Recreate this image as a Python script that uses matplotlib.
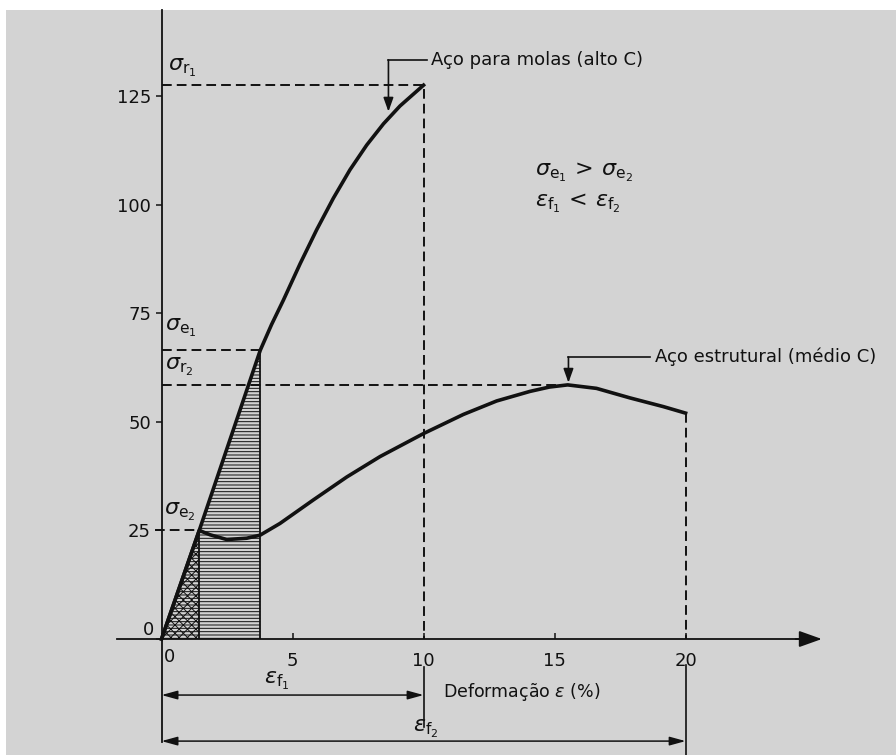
"""Stress-strain sketch: spring steel (high C) vs structural steel (medium C)."""

import matplotlib.pyplot as plt

plt.rcParams["font.family"] = ["DejaVu Sans"]
plt.rcParams["mathtext.fontset"] = "dejavusans"
plt.rcParams["hatch.linewidth"] = 0.7

# values (strain in %, stress in the drawing's units)
SPRING_STRAIN = [0, 1.44, 3.77, 4.2, 4.65, 5.29, 5.92, 6.56, 7.19, 7.83, 8.47, 9.10, 10.0]
SPRING_STRESS = [0, 25, 66.5, 72.4, 78.0, 86.4, 94.2, 101.5, 108.0, 113.7, 118.6, 122.7, 127.5]

STRUCT_STRAIN = [0, 1.44, 1.85, 2.49, 3.25, 3.76, 4.52, 5.79, 7.07, 8.34, 10.0,
                 11.52, 12.79, 14.06, 14.8, 15.5, 16.6, 17.88, 19.15, 20.0]
STRUCT_STRESS = [0, 25, 24.0, 22.9, 23.2, 23.9, 26.6, 32.0, 37.3, 42.0, 47.3,
                 51.7, 54.8, 57.0, 58.0, 58.5, 57.7, 55.5, 53.5, 52.0]

YIELD_1 = (3.77, 66.5)     # sigma_e1
YIELD_2 = (1.44, 25.0)     # sigma_e2
RUPTURE_1 = (10.0, 127.5)  # sigma_r1 / eps_f1
PEAK_2 = (15.5, 58.5)      # sigma_r2
FRACTURE_2 = (20.0, 52.0)  # eps_f2

X_TICKS = [0, 5, 10, 15, 20]
Y_TICKS = [0, 25, 50, 75, 100, 125]

BG = "#d3d3d3"
INK = "#111111"
DASH = dict(color=INK, lw=1.4, linestyle=(0, (5, 2.6)))


def setup_axes(fig):
    ax = fig.add_axes([6 / 896, 0, 890 / 896, 745 / 755])
    ax.set_facecolor(BG)
    ax.set_xlim(-5.935, 28.03)
    ax.set_ylim(-26.7, 144.8)
    ax.spines[["top", "right"]].set_visible(False)
    ax.spines["left"].set_position(("data", 0))
    ax.spines["bottom"].set_position(("data", 0))
    ax.spines["left"].set_bounds(-23.7, 144.8)
    ax.spines["bottom"].set_bounds(-1.7, 24.5)
    for s in ("left", "bottom"):
        ax.spines[s].set_linewidth(1.3)
        ax.spines[s].set_color(INK)
    ax.set_xticks(X_TICKS, labels=[""] + [str(v) for v in X_TICKS[1:]])
    ax.set_yticks(Y_TICKS, labels=[""] + [str(v) for v in Y_TICKS[1:]])
    ax.tick_params(axis="y", direction="out", length=4.5, width=1.1, pad=3,
                   labelsize=13, colors=INK)
    ax.tick_params(axis="x", direction="in", length=4, width=1.1, pad=9,
                   labelsize=13, colors=INK)
    ax.text(-0.3, 2.1, "0", ha="right", va="center", fontsize=13, color=INK)
    ax.text(0.32, -4.1, "0", ha="center", va="center", fontsize=13, color=INK)
    # arrow head of the strain axis
    ax.annotate("", xy=(25.2, 0), xytext=(24.2, 0),
                arrowprops=dict(arrowstyle="-|>,head_length=0.7,head_width=0.25",
                                mutation_scale=20, color=INK, lw=1.3,
                                shrinkA=0, shrinkB=0))
    return ax


def draw_areas(ax):
    n1 = SPRING_STRAIN.index(YIELD_1[0]) + 1
    ax.fill_between(SPRING_STRAIN[:n1], SPRING_STRESS[:n1], facecolor="none",
                    edgecolor=INK, hatch="-----", lw=0)
    n2 = STRUCT_STRAIN.index(YIELD_2[0]) + 1
    ax.fill_between(STRUCT_STRAIN[:n2], STRUCT_STRESS[:n2], facecolor="none",
                    edgecolor=INK, hatch="xxxx", lw=0)
    ax.vlines([YIELD_2[0], YIELD_1[0]], 0, [YIELD_2[1], YIELD_1[1]], color=INK, lw=1.3)


def draw_curves(ax):
    ax.plot(SPRING_STRAIN, SPRING_STRESS, color=INK, lw=2.6, solid_joinstyle="round")
    ax.plot(STRUCT_STRAIN, STRUCT_STRESS, color=INK, lw=2.6, solid_joinstyle="round")


def draw_guides(ax):
    ax.plot([0, RUPTURE_1[0], RUPTURE_1[0]], [RUPTURE_1[1], RUPTURE_1[1], 0], **DASH)
    ax.plot([0, YIELD_1[0]], [YIELD_1[1], YIELD_1[1]], **DASH)
    ax.plot([-0.25, YIELD_2[0]], [YIELD_2[1], YIELD_2[1]], **DASH)
    ax.plot([0, PEAK_2[0]], [PEAK_2[1], PEAK_2[1]], **DASH)
    ax.plot([FRACTURE_2[0], FRACTURE_2[0]], [FRACTURE_2[1], 0], **DASH)
    # extension lines below the strain axis
    ax.plot([RUPTURE_1[0], RUPTURE_1[0]], [-6.5, -20.3], color=INK, lw=1.2)
    ax.plot([FRACTURE_2[0], FRACTURE_2[0]], [-6.0, -26.7], color=INK, lw=1.2)

    dim = dict(arrowstyle="<|-|>,head_length=0.8,head_width=0.22",
               mutation_scale=12, color=INK, lw=1.1, shrinkA=0, shrinkB=0)
    ax.annotate("", xy=(0, -12.9), xytext=(RUPTURE_1[0], -12.9), arrowprops=dim)
    ax.annotate("", xy=(0, -23.5), xytext=(FRACTURE_2[0], -23.5), arrowprops=dim)


def draw_labels(ax):
    greek = dict(fontsize=16, color=INK, va="center", ha="left")
    ax.text(0.25, 131.5, r"$\sigma_{\mathrm{r}_1}$", **greek)
    ax.text(0.15, 71.5, r"$\sigma_{\mathrm{e}_1}$", **greek)
    ax.text(0.15, 62.6, r"$\sigma_{\mathrm{r}_2}$", **greek)
    ax.text(0.1, 29.3, r"$\sigma_{\mathrm{e}_2}$", **greek)

    ax.text(4.4, -9.6, r"$\epsilon_{\mathrm{f}_1}$", fontsize=16, color=INK,
            ha="center", va="center")
    ax.text(10.1, -20.8, r"$\epsilon_{\mathrm{f}_2}$", fontsize=16, color=INK,
            ha="center", va="center")
    ax.text(10.74, -12.2, r"Deformação $\epsilon$ (%)", fontsize=12.5, color=INK,
            ha="left", va="center")

    ax.text(14.25, 107.3, r"$\sigma_{\mathrm{e}_1}\,>\,\sigma_{\mathrm{e}_2}$",
            fontsize=16, color=INK, ha="left", va="center")
    ax.text(14.25, 100.2, r"$\epsilon_{\mathrm{f}_1}\,<\,\epsilon_{\mathrm{f}_2}$",
            fontsize=16, color=INK, ha="left", va="center")

    leader = dict(arrowstyle="-|>,head_length=0.7,head_width=0.25",
                  mutation_scale=12, color=INK, lw=1.2, shrinkA=0, shrinkB=0)
    # spring steel
    ax.plot([10.15, 8.66], [133.3, 133.3], color=INK, lw=1.2)
    ax.annotate("", xy=(8.66, 121.4), xytext=(8.66, 133.3), arrowprops=leader)
    ax.text(10.3, 133.3, "Aço para molas (alto C)", fontsize=13, color=INK,
            ha="left", va="center")
    # structural steel
    ax.plot([18.65, 15.53], [64.9, 64.9], color=INK, lw=1.2)
    ax.annotate("", xy=(15.53, 59.0), xytext=(15.53, 64.9), arrowprops=leader)
    ax.text(18.85, 64.9, "Aço estrutural (médio C)", fontsize=13, color=INK,
            ha="left", va="center")


def main():
    fig = plt.figure(figsize=(8.96, 7.55), dpi=100, facecolor="white")
    ax = setup_axes(fig)
    draw_areas(ax)
    draw_curves(ax)
    draw_guides(ax)
    draw_labels(ax)
    fig.savefig("out.png", dpi=100, facecolor="white")
    plt.close(fig)


if __name__ == "__main__":
    main()
